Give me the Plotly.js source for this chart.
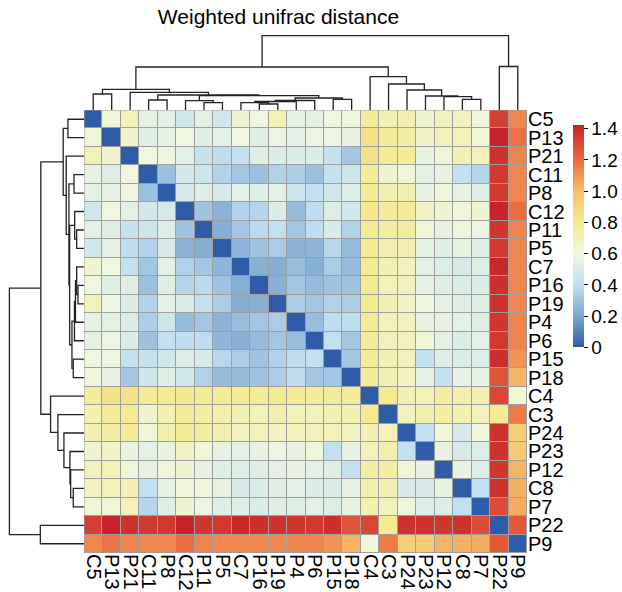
<!DOCTYPE html>
<html>
<head>
<meta charset="utf-8">
<script src="https://cdn.plot.ly/plotly-3.0.1.min.js"></script>
<style>html,body{margin:0;padding:0;background:#fff;}#chart{width:622px;height:592px;}</style>
</head>
<body>
<div id="chart"></div>
<script>
// Sample order (rows and columns share the same clustered order)
const labels = ["C5","P13","P21","C11","P8","C12","P11","P5","C7","P16","P19","P4","P6","P15","P18","C4","C3","P24","P23","P12","C8","P7","P22","P9"];

// Weighted UniFrac distances (row by row, same order as labels)
const dC5  = [0,.63,.70,.56,.54,.46,.54,.46,.64,.60,.70,.56,.55,.60,.61,.77,.71,.72,.64,.68,.68,.62,1.33,1.13];
const dP13 = [.63,0,.64,.53,.56,.60,.53,.54,.60,.53,.58,.54,.58,.58,.56,.84,.78,.75,.66,.70,.70,.63,1.42,1.18];
const dP21 = [.70,.64,0,.60,.59,.54,.42,.39,.40,.53,.51,.51,.51,.41,.31,.84,.79,.78,.57,.62,.71,.69,1.37,1.14];
const dC11 = [.56,.53,.60,0,.29,.47,.44,.35,.31,.29,.35,.34,.29,.42,.45,.78,.64,.62,.55,.56,.40,.36,1.35,1.13];
const dP8  = [.54,.56,.59,.29,0,.49,.52,.49,.54,.53,.54,.45,.40,.46,.53,.79,.71,.72,.57,.61,.56,.53,1.35,1.13];
const dC12 = [.46,.60,.54,.47,.49,0,.30,.24,.35,.36,.51,.27,.39,.52,.46,.81,.77,.78,.67,.64,.61,.64,1.42,1.19];
const dP11 = [.54,.53,.42,.44,.52,.30,0,.22,.31,.38,.40,.31,.39,.50,.35,.79,.75,.76,.62,.56,.61,.58,1.36,1.14];
const dP5  = [.46,.54,.39,.35,.49,.24,.22,0,.25,.30,.33,.24,.25,.37,.27,.79,.72,.72,.56,.53,.56,.53,1.35,1.13];
const dC7  = [.64,.60,.40,.31,.54,.35,.31,.25,0,.23,.22,.28,.23,.33,.27,.79,.71,.68,.54,.52,.49,.53,1.40,1.13];
const dP16 = [.60,.53,.53,.29,.53,.36,.38,.30,.23,0,.23,.31,.27,.30,.30,.79,.70,.69,.56,.53,.51,.51,1.38,1.13];
const dP19 = [.70,.58,.51,.35,.54,.51,.40,.33,.22,.23,0,.33,.31,.35,.33,.80,.72,.67,.59,.55,.53,.53,1.37,1.13];
const dP4  = [.56,.54,.51,.34,.45,.27,.31,.24,.28,.31,.33,0,.28,.39,.39,.79,.70,.69,.56,.56,.54,.53,1.36,1.14];
const dP6  = [.55,.58,.51,.29,.40,.39,.39,.25,.23,.27,.31,.28,0,.40,.31,.77,.69,.69,.62,.55,.51,.54,1.35,1.14];
const dP15 = [.60,.58,.41,.42,.46,.52,.50,.37,.33,.30,.35,.39,.40,0,.31,.77,.71,.69,.40,.53,.51,.52,1.38,1.10];
const dP18 = [.61,.56,.31,.45,.53,.46,.35,.27,.27,.30,.33,.39,.31,.31,0,.77,.71,.67,.56,.40,.56,.56,1.26,1.02];
const dC4  = [.77,.84,.84,.78,.79,.81,.79,.79,.79,.79,.80,.79,.77,.77,.77,0,.80,.71,.70,.75,.72,.71,1.31,.62];
const dC3  = [.71,.78,.79,.64,.71,.77,.75,.72,.71,.70,.72,.70,.69,.71,.71,.80,0,.69,.73,.75,.71,.68,.79,1.16];
const dP24 = [.72,.75,.78,.62,.72,.78,.76,.72,.68,.69,.67,.69,.69,.69,.67,.71,.69,0,.40,.62,.49,.61,1.37,.92];
const dP23 = [.64,.66,.57,.55,.57,.67,.62,.56,.54,.56,.59,.56,.62,.40,.56,.70,.73,.40,0,.56,.49,.52,1.37,.94];
const dP12 = [.68,.70,.62,.56,.61,.64,.56,.53,.52,.53,.55,.56,.55,.53,.40,.75,.75,.62,.56,0,.56,.52,1.36,1.02];
const dC8  = [.68,.70,.71,.40,.56,.61,.61,.56,.49,.51,.53,.54,.51,.51,.56,.72,.71,.49,.49,.56,0,.40,1.37,1.03];
const dP7  = [.62,.63,.69,.36,.53,.64,.58,.53,.53,.51,.53,.53,.54,.52,.56,.71,.68,.61,.52,.52,.40,0,1.29,1.04];
const dP22 = [1.33,1.42,1.37,1.35,1.35,1.42,1.36,1.35,1.40,1.38,1.37,1.36,1.35,1.38,1.26,1.31,.79,1.37,1.37,1.36,1.37,1.29,0,1.25];
const dP9  = [1.13,1.18,1.14,1.13,1.13,1.19,1.14,1.13,1.13,1.13,1.13,1.14,1.14,1.10,1.02,.62,1.16,.92,.94,1.02,1.03,1.04,1.25,0];

// Hierarchical clustering (hclust style: negative = leaf position (1-based), positive = earlier merge)
const mergePairs = [
  [-10,-11],[-7,-8],[-9,1],[3,-12],[-6,2],[4,-13],[-4,-5],[-14,-15],[-21,-22],[6,8],
  [-20,9],[-19,11],[5,10],[7,13],[-1,-2],[-3,14],[-18,12],[15,16],[-17,17],[-16,19],
  [18,20],[-23,-24],[21,22]
];
const mergeHeights = [0.12,0.146,0.146,0.17,0.186,0.19,0.2,0.214,0.214,0.24,
  0.266,0.28,0.286,0.3,0.32,0.354,0.4,0.414,0.52,0.666,0.86,0.87,1.486];

const colorTicks = [0,0.2,0.4,0.6,0.8,1.0,1.2,1.4];
const colorTickText = ["0","0.2","0.4","0.6","0.8","1.0","1.2","1.4"];

const z = [dC5,dP13,dP21,dC11,dP8,dC12,dP11,dP5,dC7,dP16,dP19,dP4,dP6,dP15,dP18,dC4,dC3,dP24,dP23,dP12,dC8,dP7,dP22,dP9];

// Dendrogram segments
const nodes = [];
function child(c){ return c < 0 ? {p: -c - 1, h: 0} : nodes[c - 1]; }
const segP = [], segH = [];
mergePairs.forEach(function(m, k){
  const a = child(m[0]), b = child(m[1]), h = mergeHeights[k];
  segP.push(a.p, a.p, b.p, b.p, null);
  segH.push(a.h, h, h, b.h, null);
  nodes.push({p: (a.p + b.p) / 2, h: h});
});

const W = 622, H = 592;
const idx = labels.map(function(_, i){ return i; });
const zmax = 1.42;
const rootH = mergeHeights[mergeHeights.length - 1];

const font = "Liberation Sans, Arial, Helvetica, sans-serif";

const traces = [
  {
    type: "heatmap", z: z, x: idx, y: idx, xaxis: "x", yaxis: "y",
    zmin: 0, zmax: zmax, xgap: 1, ygap: 1,
    colorscale: [
      [0, "#2E5CA6"], [0.141, "#7EA8D0"], [0.282, "#C2E0F0"], [0.423, "#F0F7E0"],
      [0.563, "#F5EA90"], [0.704, "#F7BE68"], [0.845, "#EA6A40"], [0.986, "#C9282A"], [1, "#C62428"]
    ],
    colorbar: {
      x: 573 / W, xanchor: "left", xref: "paper",
      y: 1 - 347.5 / H, yanchor: "bottom", yref: "paper",
      len: 221.5, lenmode: "pixels", thickness: 11, thicknessmode: "pixels",
      xpad: 0, ypad: 0, outlinewidth: 0,
      tickvals: colorTicks, ticktext: colorTickText,
      ticks: "outside", ticklen: 4, tickwidth: 1, tickcolor: "#000",
      tickfont: {family: font, size: 19, color: "#000"}
    },
    hoverinfo: "skip"
  },
  {
    type: "scatter", mode: "lines", x: segP, y: segH, xaxis: "x2", yaxis: "y2",
    line: {color: "#222", width: 1.3}, hoverinfo: "skip", showlegend: false, connectgaps: false
  },
  {
    type: "scatter", mode: "lines", x: segH, y: segP, xaxis: "x3", yaxis: "y3",
    line: {color: "#222", width: 1.3}, hoverinfo: "skip", showlegend: false, connectgaps: false
  }
];

const xd = [84 / W, 527 / W], yd = [1 - 553 / H, 1 - 110 / H];
const layout = {
  width: W, height: H,
  margin: {l: 0, r: 0, t: 0, b: 0, pad: 0, autoexpand: false},
  paper_bgcolor: "#fff", plot_bgcolor: "#fff",
  font: {family: font, color: "#000"},
  showlegend: false,
  title: {
    text: "Weighted unifrac distance", font: {family: font, size: 21, color: "#000"},
    x: 278.5 / W, xanchor: "center", xref: "paper",
    y: 1 - 17 / H, yanchor: "middle", yref: "container", automargin: false
  },
  xaxis: {
    domain: xd, range: [-0.5, 23.5], tickmode: "array", tickvals: idx, ticktext: labels,
    tickangle: 90, ticks: "", showgrid: false, zeroline: false, showline: false, automargin: false,
    tickfont: {family: font, size: 20, color: "#000"}, fixedrange: true, anchor: "y"
  },
  yaxis: {
    domain: yd, range: [23.5, -0.5], tickmode: "array", tickvals: idx, ticktext: labels,
    side: "right", ticks: "", showgrid: false, zeroline: false, showline: false, automargin: false,
    tickfont: {family: font, size: 20, color: "#000"}, fixedrange: true, anchor: "x"
  },
  xaxis2: {domain: xd, range: [-0.5, 23.5], visible: false, anchor: "y2", fixedrange: true},
  yaxis2: {domain: [1 - 110 / H, 1 - 30 / H], range: [0, rootH * 80 / 74.3], visible: false, anchor: "x2", fixedrange: true},
  xaxis3: {domain: [0, 84 / W], range: [rootH * 84 / 74.6, 0], visible: false, anchor: "y3", fixedrange: true},
  yaxis3: {domain: yd, range: [23.5, -0.5], visible: false, anchor: "x3", fixedrange: true},
  shapes: [
    {type: "rect", xref: "x", yref: "y", x0: -0.5, x1: 23.5, y0: -0.5, y1: 23.5,
     fillcolor: "#9E9E9E", line: {width: 0}, layer: "below"},
    {type: "rect", xref: "x", yref: "y", x0: -0.5, x1: 23.5, y0: -0.5, y1: 23.5,
     fillcolor: "rgba(0,0,0,0)", line: {color: "#9E9E9E", width: 1}, layer: "above"}
  ]
};

Plotly.newPlot("chart", traces, layout, {displayModeBar: false, staticPlot: true});
</script>
</body>
</html>
